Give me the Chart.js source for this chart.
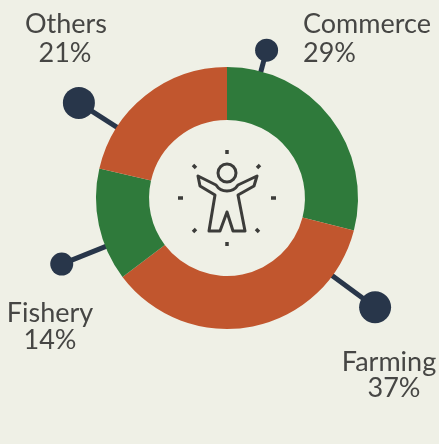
<!DOCTYPE html>
<html>
<head>
<meta charset="utf-8">
<style>
  html, body { margin: 0; padding: 0; background: #eff0e6; }
  #wrap { position: relative; width: 439px; height: 444px; }
</style>
<script src="https://cdn.jsdelivr.net/npm/chart.js@4"></script>
</head>
<body>
<div id="wrap"><canvas id="canvas" width="439" height="444"></canvas></div>
<script>
  const categories = ["Commerce", "Farming", "Fishery", "Others"]
  // printed percentages
  const percentLabels = ["29%", "37%", "14%", "21%"]
  // slice sizes as drawn, they don't quite follow the printed numbers
  const sliceValues = [29, 35.7, 13.9, 21.4]
  const sliceColors = ["#2f7a3b", "#c1562e", "#2f7a3b", "#c1562e"]

  // callouts, in degrees clockwise from the top and px from the donut centre
  const calloutAngles = [15, 126.4, 248.2, 302.7]
  const calloutLengths = [153, 184, 178, 176]
  const calloutDots = [11.5, 16, 11.5, 16]

  // [x, baseline, align] for both text lines of each label
  const labelLines = [
    [[303, 33, "left"], [303, 62, "left"]],
    [[389, 371, "center"], [394, 397, "center"]],
    [[50, 322, "center"], [50, 349, "center"]],
    [[66, 33, "center"], [65, 62, "center"]],
  ]

  const darkBlue = "#28364a"
  const textColor = "#464644"

  // Leader lines go under the ring
  const calloutPlugin = {
    id: "callouts",
    beforeDatasetsDraw(chart) {
      const ctx = chart.ctx
      const arc = chart.getDatasetMeta(0).data[0]
      ctx.save()
      calloutAngles.forEach((deg, i) => {
        const a = (deg * Math.PI) / 180
        const x = arc.x + Math.sin(a) * calloutLengths[i]
        const y = arc.y - Math.cos(a) * calloutLengths[i]
        ctx.strokeStyle = darkBlue
        ctx.lineWidth = 5
        ctx.beginPath()
        ctx.moveTo(arc.x + Math.sin(a) * (arc.outerRadius - 6), arc.y - Math.cos(a) * (arc.outerRadius - 6))
        ctx.lineTo(x, y)
        ctx.stroke()
        ctx.fillStyle = darkBlue
        ctx.beginPath()
        ctx.arc(x, y, calloutDots[i], 0, Math.PI * 2)
        ctx.fill()
      })
      ctx.restore()
    },
    afterDatasetsDraw(chart) {
      const ctx = chart.ctx
      const arc = chart.getDatasetMeta(0).data[0]
      ctx.save()
      ctx.font = "27px Lato"
      ctx.fillStyle = textColor
      ctx.textBaseline = "alphabetic"
      categories.forEach((name, i) => {
        const [first, second] = labelLines[i]
        ctx.textAlign = first[2]
        ctx.fillText(name, first[0], first[1])
        ctx.textAlign = second[2]
        ctx.fillText(percentLabels[i], second[0], second[1])
      })

      // Person icon in the hole
      ctx.translate(arc.x, arc.y)
      ctx.strokeStyle = "#3c3c3a"
      ctx.lineWidth = 3
      ctx.lineJoin = "round"
      ctx.stroke(new Path2D("M-29 -22 L-11 -13 A 13 13 0 0 0 11 -13 L30 -22 L27 -12 L11 -3 L18 33 L6 33 L0 14 L-7 33 L-18 33 L-12 -3 L-27 -12 Z"))
      ctx.beginPath()
      ctx.arc(0, -25, 9, 0, Math.PI * 2)
      ctx.fillStyle = "#eff0e6"
      ctx.fill()
      ctx.stroke()
      ctx.lineWidth = 3.5
      ctx.stroke(new Path2D("M0 -48 V-44 M0 44 V48 M-49 0 H-44 M44 0 H49 M-34 -33 L-31 -30 M33 -33 L30 -30 M-34 34 L-31 31 M32 34 L29 31"))
      ctx.restore()
    },
  }

  new Chart(document.getElementById("canvas").getContext("2d"), {
    type: "doughnut",
    data: {
      labels: categories,
      datasets: [
        {
          data: sliceValues,
          backgroundColor: sliceColors,
          borderWidth: 0,
        },
      ],
    },
    options: {
      responsive: false,
      animation: false,
      cutout: "59.5%",
      layout: {
        padding: { left: 96, right: 81, top: 67, bottom: 115 },
      },
      plugins: {
        legend: { display: false },
        tooltip: { enabled: false },
      },
    },
    plugins: [calloutPlugin],
  })
</script>
</body>
</html>
